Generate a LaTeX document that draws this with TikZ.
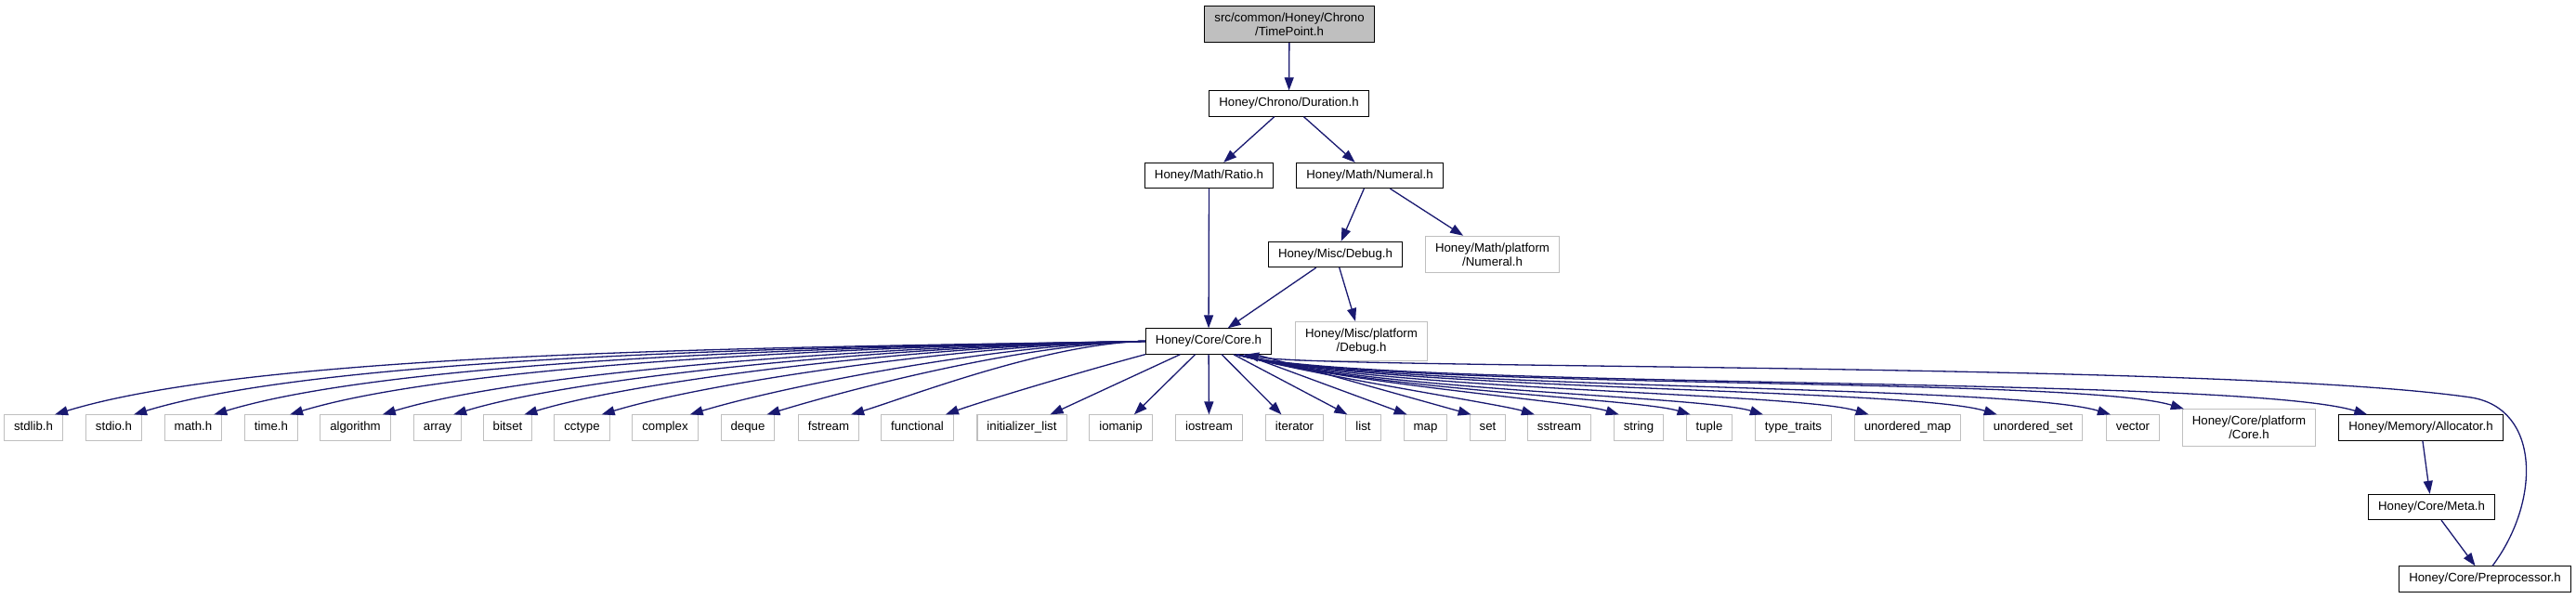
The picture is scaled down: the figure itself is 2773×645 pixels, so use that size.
\documentclass[tikz,border=0pt]{standalone}
\usepackage{fontspec}
\setmainfont{Liberation Sans}
\usetikzlibrary{arrows.meta}

\definecolor{depblue}{HTML}{191970}
\definecolor{gray75}{HTML}{BFBFBF}

\tikzset{
  hdr/.style={line width=1.1pt, inner xsep=10.5pt, inner ysep=7.3pt, align=center,
    font=\fontsize{13.25}{15}\selectfont},
  inc/.style={hdr, draw=black, text height=9.7pt, text depth=2.9pt},
  sys/.style={hdr, draw=gray75, text height=9.7pt, text depth=2.9pt},
  sysml/.style={hdr, draw=gray75},
  cur/.style={hdr, draw=black, fill=gray75},
  dep/.style={draw=depblue, line width=1.3pt, -{Triangle[length=14pt,width=10pt]}},
}

\begin{document}
\begin{tikzpicture}[x=1pt, y=1pt]
  \useasboundingbox (0,0) rectangle (2773,-645);

  % Honey headers
  \node[cur] (timepoint) at (1388,-26) {src/common/Honey/Chrono\\/TimePoint.h};
  \node[inc] (duration) at (1387.5,-111.5) {Honey/Chrono/Duration.h};
  \node[inc] (ratio) at (1301.5,-189) {Honey/Math/Ratio.h};
  \node[inc] (numeral) at (1474.5,-189) {Honey/Math/Numeral.h};
  \node[inc] (debug) at (1437.5,-274) {Honey/Misc/Debug.h};
  \node[sysml] (mathplat) at (1606.5,-274) {Honey/Math/platform\\/Numeral.h};
  \node[inc] (core) at (1301,-367.5) {Honey/Core/Core.h};
  \node[sysml] (miscplat) at (1465.5,-367.5) {Honey/Misc/platform\\/Debug.h};
  \node[sysml] (coreplat) at (2421,-460.5) {Honey/Core/platform\\/Core.h};
  \node[inc] (allocator) at (2606,-460.5) {Honey/Memory/Allocator.h};
  \node[inc] (meta) at (2617.5,-546) {Honey/Core/Meta.h};
  \node[inc] (preproc) at (2675,-623.5) {Honey/Core/Preprocessor.h};

  % standard headers
  \foreach \n/\xc/\lbl in {stdlib/36/stdlib.h, stdio/122.5/stdio.h, math/208/math.h,
      time/292/time.h, algorithm/382.5/algorithm, array/471/array, bitset/546.5/bitset,
      cctype/626.5/cctype, complex/716/complex, deque/805/deque, fstream/892/fstream,
      functional/987.5/functional, initlist/1100/initializer\_list, iomanip/1206.5/iomanip,
      iostream/1301.5/iostream, iterator/1393.5/iterator, list/1467.5/list, map/1534.5/map,
      set/1601.5/set, sstream/1678.5/sstream, string/1764/string, tuple/1840/tuple,
      typetraits/1930.5/type\_traits, umap/2053.5/unordered\_map,
      uset/2188.5/unordered\_set, vector/2296/vector}
    \node[sys] (\n) at (\xc,-460.5) {\lbl};

  % include edges
  \draw[dep] (timepoint) -- (duration);
  \draw[dep] (duration) -- (ratio);
  \draw[dep] (duration) -- (numeral);
  \draw[dep] (ratio) -- (core);
  \draw[dep] (numeral) -- (debug);
  \draw[dep] (numeral) -- (mathplat);
  \draw[dep] (debug) -- (core);
  \draw[dep] (debug) -- (miscplat);
  \draw[dep] (allocator) -- (meta);
  \draw[dep] (meta) -- (preproc);

  % Core.h fans out to the left
  \foreach \n/\a/\b in {stdlib/387/235, stdio/359/218, math/331/201, time/304/184,
      algorithm/271/164, array/246/149, bitset/221/134, cctype/193/117,
      complex/162/98, deque/135/82, fstream/105/63}
    \draw[dep] (core.west) .. controls +(181:\a pt) and +(17:\b pt)
      .. ([xshift=-9pt]\n.north east);
  \draw[dep] (core.south west) .. controls +(195:70pt) and +(20:40pt)
    .. ([xshift=-9pt]functional.north east);
  \draw[dep] (core) -- (initlist);
  \draw[dep] (core) -- (iomanip);
  \draw[dep] (core) -- (iostream);
  \draw[dep] (core) -- (iterator);
  \draw[dep] (core) -- ([xshift=2pt]list.north west);
  \draw[dep] (core) -- ([xshift=4pt]map.north west);
  \draw[dep] (core) -- ([xshift=2pt]set.north west);

  % and to the right
  \foreach \n/\k/\a/\b in {sstream/8/96/39, string/6/124/49, tuple/5/147/59,
      typetraits/9/150/68, umap/16/150/82, uset/15/150/98, vector/5/150/113,
      coreplat/2/150/122, allocator/31/150/146}
    \draw[dep] ([xshift=30pt]core.south) .. controls +(-15:\a pt) and +(163:\b pt)
      .. ([xshift=\k pt]\n.north west);

  % back edge Preprocessor.h -> Core.h
  \draw[dep] ([xshift=8pt]preproc.north) .. controls (2735,-540) and (2735,-440) .. (2660,-428)
    .. controls (2400,-390) and (1420,-398) .. ([xshift=40pt]core.south);
\end{tikzpicture}
\end{document}
